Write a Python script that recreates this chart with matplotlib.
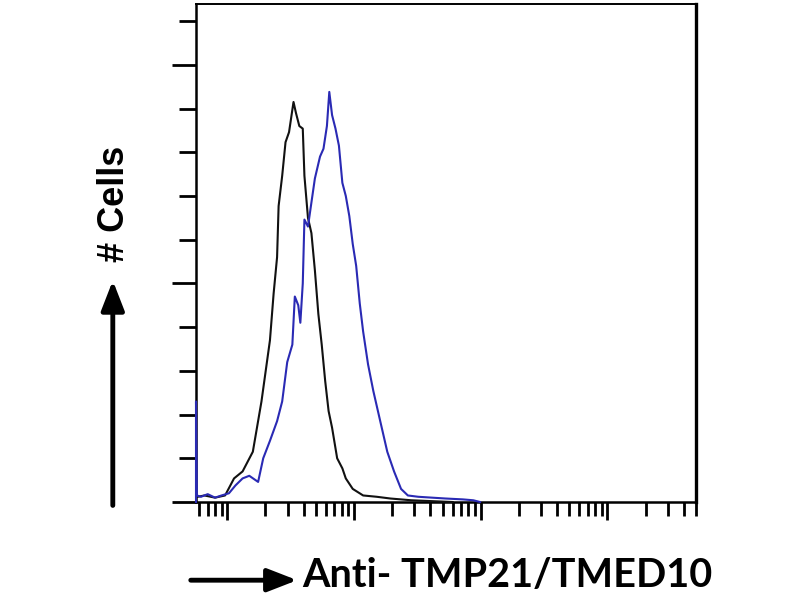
import matplotlib
matplotlib.use("Agg")
import matplotlib.pyplot as plt
from matplotlib.patches import FancyArrowPatch
from matplotlib.ticker import LogLocator, NullFormatter, FixedLocator

# Isotype control (black) histogram: intensity, cell count
ctrl_x = [5.85, 6.6, 8.0, 9.6, 11.3, 13.2, 15.9, 18.6, 21.7, 23.2, 24.7, 25.4, 27.1,
          28.8, 30.7, 33.3, 34.8, 37.0, 39.4, 40.6, 43.3, 46.1, 49.1, 52.3, 55.6,
          59.2, 63.0, 67.1, 73.6, 80.9, 86.1, 97.7, 118, 151, 194, 283, 412, 600]
ctrl_y = [0.12, 0.15, 0.1, 0.15, 0.54, 0.7, 1.15, 2.3, 3.7, 4.77, 5.6, 6.77, 7.46,
          8.23, 8.46, 9.15, 8.9, 8.6, 8.54, 7.46, 6.5, 6.15, 5.3, 4.3, 3.6,
          2.77, 2.08, 1.7, 1.0, 0.77, 0.54, 0.3, 0.15, 0.12, 0.08, 0.04, 0.02, 0.0]

# Anti-TMP21/TMED10 (blue) histogram
ab_x = [5.66, 5.66, 5.75, 6.2, 7.0, 8.0, 9.0, 10.3, 11.6, 13.2, 14.9, 17.5, 19.2, 21.7,
        24.7, 27.1, 29.7, 32.6, 34.1, 36.3, 37.7, 39.4, 40.6, 43.3, 46.1, 49.1,
        53.9, 57.4, 61.1, 63.8, 67.1, 71.4, 76.0, 80.9, 86.1, 91.8, 97.7, 104,
        111, 118, 129, 142, 161, 183, 207, 235, 266, 321, 412, 530, 724, 873, 989]
ab_y = [0.0, 2.3, 0.15, 0.12, 0.18, 0.1, 0.15, 0.2, 0.38, 0.54, 0.6, 0.46, 1.0, 1.4,
        1.85, 2.3, 3.2, 3.6, 4.7, 4.5, 4.1, 5.0, 6.46, 6.3, 6.85, 7.4,
        7.9, 8.08, 8.6, 9.38, 8.85, 8.54, 8.15, 7.3, 7.0, 6.54, 5.9, 5.4,
        4.54, 3.9, 3.15, 2.54, 1.85, 1.15, 0.7, 0.3, 0.15, 0.12, 0.1, 0.08, 0.06, 0.04, 0.0]

x_limits = (5.66, 50000)
y_limits = (0, 11.39)
y_major = [0, 5, 10]
y_minor = [1, 2, 3, 4, 6, 7, 8, 9, 11]

xlabel_text = "Anti- TMP21/TMED10"
ylabel_text = "# Cells"

fig = plt.figure(figsize=(8, 6), dpi=100)
ax = fig.add_axes([0.245, 0.1633, 0.625, 0.830])

ax.plot(ctrl_x, ctrl_y, color="#111111", lw=1.5, zorder=3, clip_on=False)
ax.plot(ab_x, ab_y, color="#2a2ab4", lw=1.5, zorder=3.1, clip_on=False)

ax.set_xscale("log")
ax.set_xlim(*x_limits)
ax.set_ylim(*y_limits)

ax.xaxis.set_major_locator(LogLocator(base=10, numticks=20))
ax.xaxis.set_minor_locator(LogLocator(base=10, subs=range(2, 10), numticks=50))
ax.xaxis.set_major_formatter(NullFormatter())
ax.xaxis.set_minor_formatter(NullFormatter())
ax.yaxis.set_major_locator(FixedLocator(y_major))
ax.yaxis.set_minor_locator(FixedLocator(y_minor))
ax.yaxis.set_major_formatter(NullFormatter())

ax.tick_params(axis="x", which="major", direction="out", length=13, width=2)
ax.tick_params(axis="x", which="minor", direction="out", length=10, width=2)
ax.tick_params(axis="y", which="major", direction="out", length=17, width=2)
ax.tick_params(axis="y", which="minor", direction="out", length=12, width=2)

for s in ["left", "bottom"]:
    ax.spines[s].set_linewidth(1.8)
ax.spines["right"].set_linewidth(2.4)
ax.spines["top"].set_linewidth(1.4)

# y-label with arrow
fig.text(0.143, 0.66, ylabel_text, rotation=90, ha="center", va="center",
         fontsize=26, fontweight="bold", family="Liberation Sans")
fig.add_artist(FancyArrowPatch(
    (0.141, 0.153), (0.141, 0.537), transform=fig.transFigure,
    arrowstyle="-|>,head_length=1.8,head_width=0.7", lw=3.5, color="black",
    mutation_scale=10))

# x-label with arrow
fig.add_artist(FancyArrowPatch(
    (0.235, 0.033), (0.375, 0.033), transform=fig.transFigure,
    arrowstyle="-|>,head_length=1.8,head_width=0.7", lw=3.5, color="black",
    mutation_scale=10))
fig.text(0.378, 0.021, xlabel_text, ha="left", va="baseline",
         fontsize=28.5, fontweight="bold", family="Lato")

fig.savefig("out.png", dpi=100)
